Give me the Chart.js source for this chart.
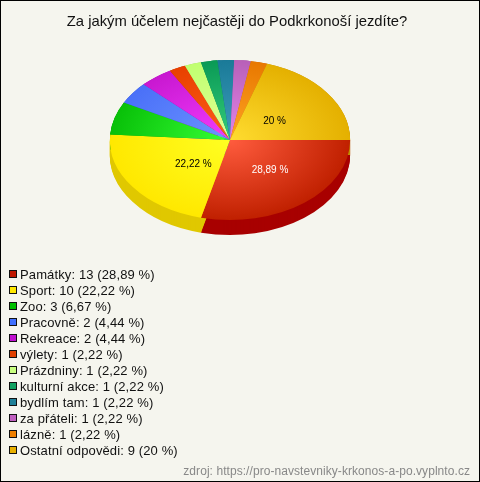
<!DOCTYPE html>
<html>
<head>
<meta charset="utf-8">
<title>Podkrkonoší</title>
<script src="https://cdn.jsdelivr.net/npm/chart.js@4/dist/chart.umd.min.js"></script>
<style>
    html, body { margin: 0; padding: 0; background: #f5f5ee; }
    #wrap { position: relative; width: 480px; height: 482px; box-sizing: border-box; border: 1px solid #000; background: #f5f5ee; overflow: hidden; font-family: "Liberation Sans", Arial, sans-serif; }
    #chart { position: absolute; left: -4px; top: -1px; }
    #legend { position: absolute; left: 8px; top: 266px; margin: 0; padding: 0; list-style: none; font-size: 13px; letter-spacing: 0.12px; color: #111; }
    #legend li { height: 16px; line-height: 16px; white-space: nowrap; }
    #legend i { display: inline-block; width: 6px; height: 6px; border: 1px solid #111; margin-right: 3px; vertical-align: 1px; }
    #source { position: absolute; right: 9px; top: 463px; font-size: 12px; color: #888; letter-spacing: 0.06px; }
</style>
</head>
<body>
<div id="wrap">
    <canvas id="chart" width="480" height="482"></canvas>
    <ul id="legend"></ul>
    <div id="source">zdroj: https://pro-navstevniky-krkonos-a-po.vyplnto.cz</div>
</div>
<script>
const titleText = 'Za jakým účelem nejčastěji do Podkrkonoší jezdíte?';
const categories = ['Památky', 'Sport', 'Zoo', 'Pracovně', 'Rekreace', 'výlety', 'Prázdniny', 'kulturní akce', 'bydlím tam', 'za přáteli', 'lázně', 'Ostatní odpovědi'];
const counts = [13, 10, 3, 2, 2, 1, 1, 1, 1, 1, 1, 9];
const percents = ['28,89', '22,22', '6,67', '4,44', '4,44', '2,22', '2,22', '2,22', '2,22', '2,22', '2,22', '20'];
const innerColors = ['#ff5c3e', '#ffff22', '#36ff36', '#6c94ff', '#f23cff', '#ff5e18', '#e2ff96', '#34cc7c', '#3e9ebc', '#e284ea', '#ffa424', '#ffdc30'];
const outerColors = ['#c02000', '#ffe800', '#08c008', '#4a70f8', '#c818d0', '#e84000', '#c0ff70', '#0a9a55', '#1a7a98', '#b860b8', '#e87800', '#e4b000'];
const legendColors = ['#c01800', '#ffe800', '#00c000', '#4070ff', '#c010d0', '#e04000', '#c8ff80', '#10a060', '#208098', '#c060c0', '#f08000', '#e8b000'];
const sideColors = ['#a80000', '#e0c800', '#00a000', '#3050d0', '#a000b0', '#c03000', '#a0d060', '#088048', '#106080', '#a050a0', '#c86000', '#c09000'];

const PIE_X = 233, PIE_Y = 140, SQUASH = 2 / 3, DEPTH = 15;
const labelNudge = { 0: [3, -1], 1: [12, 1], 11: [-4, 5] };

// pie is laid out as a circle, then squashed to an ellipse when painted
function squash(ctx, arc) {
    ctx.translate(PIE_X, PIE_Y);
    ctx.scale(1, SQUASH);
    ctx.translate(-arc.x, -arc.y);
}

const pie3d = {
    id: 'pie3d',
    beforeDatasetDraw(chart, args) {
        const ctx = chart.ctx;
        const arcs = args.meta.data;
        ctx.save();
        ctx.save();
        ctx.translate(0, DEPTH);
        squash(ctx, arcs[0]);
        arcs.forEach((arc, i) => {
            // the rim: same arc, shifted down in side colour
            const opts = arc.options;
            arc.options = Object.assign({}, opts, { backgroundColor: sideColors[i], borderWidth: 0 });
            for (let d = 0; d <= DEPTH; d++) {
                ctx.save();
                ctx.translate(0, -d / SQUASH);
                arc.draw(ctx);
                ctx.restore();
            }
            arc.options = opts;
        });
        ctx.restore();
        squash(ctx, arcs[0]);
    },
    afterDatasetDraw(chart) {
        chart.ctx.restore();
    },
    afterDraw(chart) {
        const ctx = chart.ctx;
        const arcs = chart.getDatasetMeta(0).data;
        ctx.save();
        ctx.font = '10px "Liberation Sans", Arial, sans-serif';
        ctx.textAlign = 'center';
        ctx.textBaseline = 'middle';
        Object.keys(labelNudge).forEach(k => {
            const i = Number(k);
            const p = arcs[i].getCenterPoint();
            const x = PIE_X + (p.x - arcs[i].x) + labelNudge[i][0];
            const y = PIE_Y + (p.y - arcs[i].y) * SQUASH + labelNudge[i][1];
            ctx.fillStyle = i === 0 ? '#fff' : '#000';
            ctx.fillText(percents[i] + ' %', x, y);
        });
        ctx.restore();
    }
};

new Chart(document.getElementById('chart').getContext('2d'), {
    type: 'pie',
    data: {
        labels: categories,
        datasets: [{
            data: counts,
            clip: false,
            borderWidth: 0,
            backgroundColor: function(c) {
                const area = c.chart.chartArea;
                if (!area) return outerColors[c.dataIndex];
                const cx = (area.left + area.right) / 2, cy = (area.top + area.bottom) / 2;
                const g = c.chart.ctx.createRadialGradient(cx, cy, 0, cx, cy, 120);
                g.addColorStop(0, innerColors[c.dataIndex]);
                g.addColorStop(1, outerColors[c.dataIndex]);
                return g;
            }
        }]
    },
    plugins: [pie3d],
    options: {
        responsive: false,
        animation: false,
        rotation: 90,
        layout: { padding: { left: 0, right: 0, top: 0, bottom: 210 } },
        plugins: {
            legend: { display: false },
            tooltip: { enabled: false },
            title: {
                display: true,
                text: titleText,
                color: '#111',
                font: { family: '"Liberation Sans", Arial, sans-serif', size: 14.8, weight: 'normal' },
                padding: { top: 13, bottom: 1 }
            }
        }
    }
});

const legendEl = document.getElementById('legend');
categories.forEach((name, i) => {
    const li = document.createElement('li');
    const box = document.createElement('i');
    box.style.background = legendColors[i];
    li.appendChild(box);
    li.appendChild(document.createTextNode(name + ': ' + counts[i] + ' (' + percents[i] + ' %)'));
    legendEl.appendChild(li);
});
</script>
</body>
</html>
